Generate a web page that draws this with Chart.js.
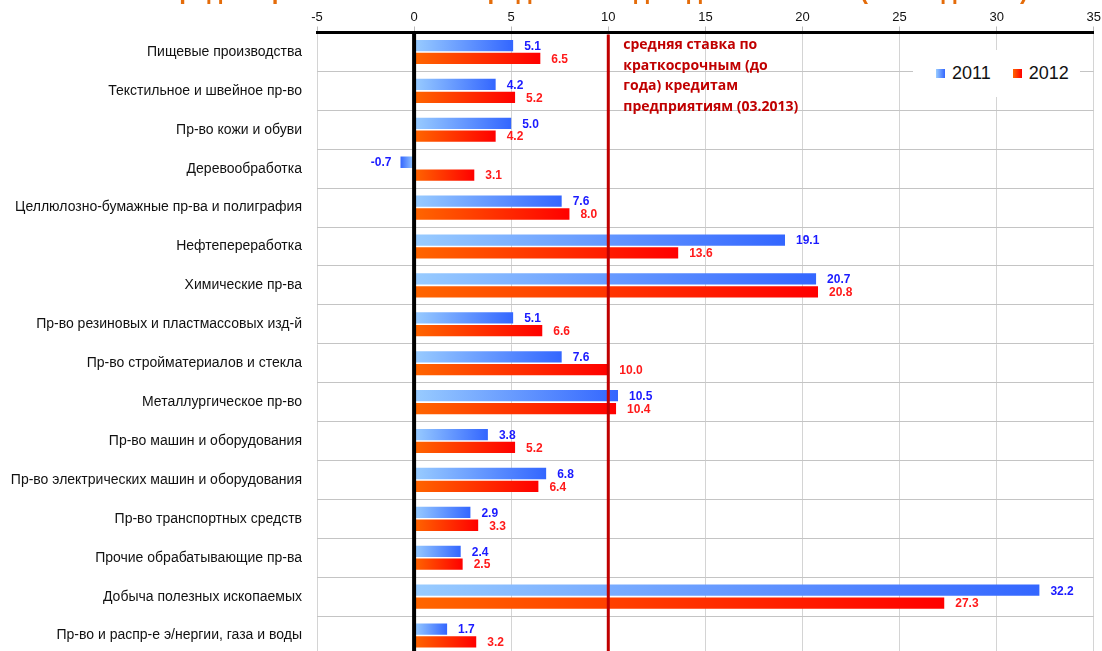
<!DOCTYPE html>
<html lang="ru">
<head>
<meta charset="utf-8">
<script src="https://cdn.jsdelivr.net/npm/chart.js@4.4.1/dist/chart.umd.min.js"></script>
<style>
  html, body { margin: 0; padding: 0; background: #fff; overflow: hidden; }
  #wrap { position: relative; width: 1102px; height: 651px; overflow: hidden; }
  #title {
    position: absolute; top: -21px; left: 0; width: 1190px; text-align: center;
    font: bold 24px "Liberation Sans", Arial, sans-serif; line-height: 24px;
    color: #e46c0a; white-space: nowrap;
  }
  #legend {
    position: absolute; left: 913px; top: 50px; width: 167px; height: 47px;
    background: #fff; display: flex; align-items: center; padding-left: 23px; box-sizing: border-box;
    font: 18px "Liberation Sans", Arial, sans-serif; color: #111;
  }
  #legend .item { display: flex; align-items: center; margin-right: 22px; }
  #legend .sw { width: 9px; height: 9px; margin-right: 7px; }
</style>
</head>
<body>
<div id="wrap">
  <div id="title">Средняя рентабельность продаж по видам деятельности (в % годовых)</div>
  <canvas id="chart" width="1102" height="680"></canvas>
  <div id="legend"></div>
</div>
<script>
const categories = [
  "Пищевые производства",
  "Текстильное и швейное пр-во",
  "Пр-во кожи и обуви",
  "Деревообработка",
  "Целлюлозно-бумажные пр-ва и полиграфия",
  "Нефтепереработка",
  "Химические пр-ва",
  "Пр-во резиновых и пластмассовых изд-й",
  "Пр-во стройматериалов и стекла",
  "Металлургическое пр-во",
  "Пр-во машин и оборудования",
  "Пр-во электрических машин и оборудования",
  "Пр-во транспортных средств",
  "Прочие обрабатывающие пр-ва",
  "Добыча полезных ископаемых",
  "Пр-во и распр-е э/нергии, газа и воды"
];
const values2011 = [5.1, 4.2, 5.0, -0.7, 7.6, 19.1, 20.7, 5.1, 7.6, 10.5, 3.8, 6.8, 2.9, 2.4, 32.2, 1.7];
const values2012 = [6.5, 5.2, 4.2, 3.1, 8.0, 13.6, 20.8, 6.6, 10.0, 10.4, 5.2, 6.4, 3.3, 2.5, 27.3, 3.2];
const seriesNames = ["2011", "2012"];
const xMin = -5, xMax = 35, xStep = 5;
const rateValue = 10;
const rateNote = ["средняя ставка по", "краткосрочным (до", "года) кредитам", "предприятиям (03.2013)"];

const gradStops = [["#99ccff", "#3366ff"], ["#ff6600", "#ff0000"]];
const labelColors = ["#1a1aff", "#ff1a1a"];

function barGradient(stops) {
  return (c) => {
    const chart = c.chart;
    const x = chart.scales.x;
    if (!chart.chartArea || !x || c.type !== "data") return stops[1];
    const x0 = x.getPixelForValue(0);
    const x1 = x.getPixelForValue(c.raw);
    if (Math.abs(x1 - x0) < 0.5) return stops[1];
    const g = chart.ctx.createLinearGradient(x0, 0, x1, 0);
    g.addColorStop(0, stops[0]);
    g.addColorStop(1, stops[1]);
    return g;
  };
}

const overlay = {
  id: "overlay",
  afterDatasetsDraw(chart) {
    const { ctx, chartArea, scales: { x } } = chart;
    ctx.save();
    // vertical zero line
    const zx = x.getPixelForValue(0);
    ctx.strokeStyle = "#000";
    ctx.lineWidth = 4;
    ctx.beginPath(); ctx.moveTo(zx, chartArea.top); ctx.lineTo(zx, chartArea.bottom); ctx.stroke();
    // rate line
    const rx = x.getPixelForValue(rateValue);
    ctx.strokeStyle = "#c00000";
    ctx.lineWidth = 3;
    ctx.beginPath(); ctx.moveTo(rx, chartArea.top + 2); ctx.lineTo(rx, chartArea.bottom); ctx.stroke();
    // rate note
    ctx.fillStyle = "#c00000";
    ctx.font = 'bold 14px "Open Sans", sans-serif';
    ctx.textAlign = "left";
    ctx.textBaseline = "middle";
    rateNote.forEach((line, i) => ctx.fillText(line, rx + 15, chartArea.top + 13 + i * 20.5));
    // value labels
    ctx.font = 'bold 12px "Liberation Sans", Arial, sans-serif';
    chart.data.datasets.forEach((ds, di) => {
      ctx.fillStyle = labelColors[di];
      chart.getDatasetMeta(di).data.forEach((bar, i) => {
        const v = ds.data[i];
        if (v < 0) {
          ctx.textAlign = "right";
          ctx.fillText(v.toFixed(1), bar.x - 9, bar.y);
        } else {
          ctx.textAlign = "left";
          ctx.fillText(v.toFixed(1), bar.x + 11, bar.y + 1);
        }
      });
    });
    ctx.restore();
  }
};

const chart = new Chart(document.getElementById("chart"), {
  type: "bar",
  data: {
    labels: categories,
    datasets: [
      { label: seriesNames[0], data: values2011, backgroundColor: barGradient(gradStops[0]) },
      { label: seriesNames[1], data: values2012, backgroundColor: barGradient(gradStops[1]) }
    ]
  },
  options: {
    indexAxis: "y",
    responsive: false,
    animation: false,
    categoryPercentage: 0.66,
    barPercentage: 0.88,
    layout: { padding: { top: 0, left: 0, right: 7, bottom: 25 } },
    scales: {
      x: {
        position: "top",
        min: xMin, max: xMax,
        afterFit: (s) => { s.height = 32.5; },
        ticks: {
          stepSize: xStep,
          padding: 1,
          color: "#111",
          font: { family: '"Liberation Sans", Arial, sans-serif', size: 13 }
        },
        grid: { color: "#d4d4d4", lineWidth: 1, tickLength: 6, tickColor: "#bbb" },
        border: { color: "#000", width: 3 }
      },
      y: {
        afterFit: (s) => { s.width = 317; },
        ticks: {
          padding: 15,
          color: "#111",
          font: { family: '"Liberation Sans", Arial, sans-serif', size: 14 }
        },
        grid: { color: "#c4c4c4", offset: true, drawTicks: false },
        border: { display: false }
      }
    },
    plugins: {
      legend: { display: false },
      tooltip: { enabled: false }
    }
  },
  plugins: [overlay]
});

// html legend built from the series names
const legend = document.getElementById("legend");
seriesNames.forEach((name, i) => {
  const item = document.createElement("div");
  item.className = "item";
  const sw = document.createElement("span");
  sw.className = "sw";
  sw.style.background = `linear-gradient(to right, ${gradStops[i][0]}, ${gradStops[i][1]})`;
  const t = document.createElement("span");
  t.textContent = name;
  item.appendChild(sw);
  item.appendChild(t);
  legend.appendChild(item);
});
</script>
</body>
</html>
